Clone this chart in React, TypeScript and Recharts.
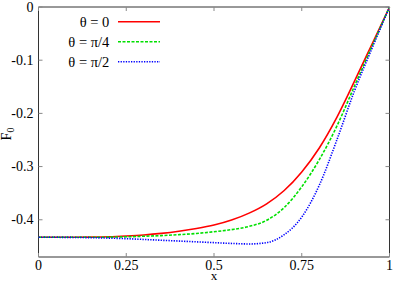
import React from "react";
import { LineChart, Line, XAxis, YAxis, ReferenceArea } from "recharts";

const xValues = [0, 0.05, 0.1, 0.15, 0.2, 0.25, 0.3, 0.35, 0.4, 0.45, 0.5, 0.55, 0.6, 0.65, 0.7, 0.75, 0.8, 0.85, 0.9, 0.95, 1];
const theta0 = [-0.433, -0.433, -0.433, -0.4327, -0.432, -0.4305, -0.4285, -0.4255, -0.4215, -0.4165, -0.41, -0.4005, -0.3875, -0.37, -0.345, -0.31, -0.265, -0.2075, -0.14, -0.07, 0];
const thetaPi4 = [-0.433, -0.433, -0.433, -0.433, -0.4327, -0.432, -0.431, -0.4298, -0.428, -0.4257, -0.4225, -0.4185, -0.4125, -0.401, -0.377, -0.338, -0.287, -0.224, -0.149, -0.074, 0];
const thetaPi2 = [-0.433, -0.433, -0.4332, -0.4337, -0.4345, -0.4355, -0.437, -0.4385, -0.44, -0.4415, -0.443, -0.4445, -0.4455, -0.443, -0.428, -0.395, -0.335, -0.25, -0.158, -0.078, 0];
const xTicks = [0, 0.25, 0.5, 0.75, 1];
const yTicks = [-0.4, -0.3, -0.2, -0.1, 0];
const seriesNames = ["θ = 0", "θ = π/4", "θ = π/2"];

const data = xValues.map((x, i) => ({ x, a: theta0[i], b: thetaPi4[i], c: thetaPi2[i] }));

const series = [
  { key: "a", name: seriesNames[0], color: "#ff0000", dash: undefined as string | undefined, width: 1.6 },
  { key: "b", name: seriesNames[1], color: "#00e000", dash: "3 1.5", width: 1.6 },
  { key: "c", name: seriesNames[2], color: "#0000ff", dash: "1.3 1.3", width: 1.6 },
];

const W = 404;
const H = 283;
const LEFT = 38.5;
const RIGHT = 389.5;
const TOP = 7;
const BOTTOM = 257;
const TICK = 4;
const FONT = "Liberation Serif, Times New Roman, serif";
const textStyle = { fontFamily: FONT, fontSize: 14 };

const XTick = (props: any) => {
  const { x, payload } = props;
  return (
    <g>
      <line x1={x} x2={x} y1={BOTTOM} y2={BOTTOM - TICK} stroke="#888" strokeWidth={1} />
      <line x1={x} x2={x} y1={TOP} y2={TOP + TICK} stroke="#888" strokeWidth={1} />
      <text x={x} y={BOTTOM + 12.5} textAnchor="middle" style={textStyle} fill="#000">
        {String(payload.value)}
      </text>
    </g>
  );
};

const YTick = (props: any) => {
  const { y, payload } = props;
  return (
    <g>
      <line x1={LEFT} x2={LEFT + TICK} y1={y} y2={y} stroke="#888" strokeWidth={1} />
      <line x1={RIGHT} x2={RIGHT - TICK} y1={y} y2={y} stroke="#888" strokeWidth={1} />
      <text x={33.5} y={y + 4.5} textAnchor="end" style={textStyle} fill="#000">
        {String(payload.value)}
      </text>
    </g>
  );
};

const YLabel = () => (
  <text x={10.5} y={134} transform="rotate(-90, 10.5, 134)" textAnchor="middle" style={textStyle} fill="#000">
    F<tspan style={{ fontSize: 10 }} dy={3}>0</tspan>
  </text>
);

const XLabel = () => (
  <text x={214} y={280} textAnchor="middle" style={{ fontFamily: FONT, fontSize: 13 }} fill="#000">
    x
  </text>
);

const LegendBox = () => (
  <svg width={170} height={60} style={{ position: "absolute", left: 0, top: 12, overflow: "visible" }}>
    {series.map((s, i) => {
      const cy = 9.7 + i * 20;
      return (
        <g key={s.key}>
          <text x={109.3} y={cy + 5} textAnchor="end" style={{ fontFamily: FONT, fontSize: 14.5 }} fill="#000">
            {s.name}
          </text>
          <line x1={118} x2={160} y1={cy} y2={cy} stroke={s.color} strokeWidth={s.width} strokeDasharray={s.dash} />
        </g>
      );
    })}
  </svg>
);

export default function App() {
  return (
    <div style={{ position: "absolute", left: 0, top: 0, width: W, height: H, background: "#fff" }}>
      <LineChart width={W} height={H} data={data} margin={{ top: TOP, right: W - RIGHT, left: 8.5, bottom: 0 }}>
        <ReferenceArea x1={0} x2={1} y1={-0.47} y2={0} fill="none" stroke="#333" strokeWidth={1} ifOverflow="extendDomain" />
        <XAxis
          dataKey="x"
          type="number"
          domain={[0, 1]}
          ticks={xTicks}
          height={26}
          tickLine={false}
          axisLine={false}
          tickSize={0}
          tick={<XTick />}
          interval={0}
          label={<XLabel />}
        />
        <YAxis
          type="number"
          domain={[-0.47, 0]}
          ticks={yTicks}
          width={30}
          tickLine={false}
          axisLine={false}
          tickSize={0}
          tick={<YTick />}
          interval={0}
          label={<YLabel />}
        />
        {series.map((s) => (
          <Line
            key={s.key}
            dataKey={s.key}
            name={s.name}
            type="monotone"
            stroke={s.color}
            strokeWidth={s.width}
            strokeDasharray={s.dash}
            dot={false}
            activeDot={false}
            isAnimationActive={false}
          />
        ))}
      </LineChart>
      <LegendBox />
    </div>
  );
}
